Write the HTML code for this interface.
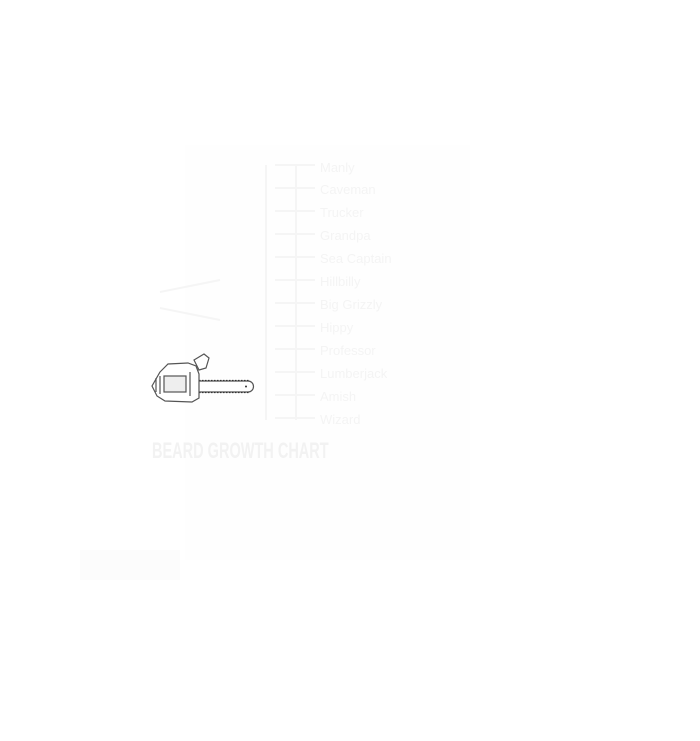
<!DOCTYPE html>
<html><head><style>
body{margin:0;width:700px;height:741px;background:#fff;position:relative;overflow:hidden;font-family:"Liberation Sans",sans-serif}
.t{position:absolute;left:320px;color:#f4f4f4;font-size:13px}
</style></head><body>
<div style="position:absolute;left:185px;top:145px;width:285px;height:415px;background:#fefefe"></div>
<div style="position:absolute;left:80px;top:550px;width:100px;height:30px;background:#fcfcfc"></div>
<div class="t" style="top:160px">Manly</div>
<div class="t" style="top:182px">Caveman</div>
<div class="t" style="top:205px">Trucker</div>
<div class="t" style="top:228px">Grandpa</div>
<div class="t" style="top:251px">Sea Captain</div>
<div class="t" style="top:274px">Hillbilly</div>
<div class="t" style="top:297px">Big Grizzly</div>
<div class="t" style="top:320px">Hippy</div>
<div class="t" style="top:343px">Professor</div>
<div class="t" style="top:366px">Lumberjack</div>
<div class="t" style="top:389px">Amish</div>
<div class="t" style="top:412px">Wizard</div>
<div style="position:absolute;left:152px;top:438px;color:#f2f2f2;font-size:22px;font-weight:bold;transform:scaleX(0.66);transform-origin:0 0;white-space:nowrap">BEARD GROWTH CHART</div>
<svg width="700" height="741" style="position:absolute;left:0;top:0">
<g stroke="#f5f5f5" stroke-width="2" fill="none">
<line x1="296" y1="165" x2="296" y2="420"/>
<line x1="266" y1="165" x2="266" y2="420"/>
<path d="M275 165h40M275 188h40M275 211h40M275 234h40M275 257h40M275 280h40M275 303h40M275 326h40M275 349h40M275 372h40M275 395h40M275 418h40"/>
<path d="M160 292l60 -12M160 308l60 12"/>
</g>
<g stroke="#555" stroke-width="1.2" fill="#fff">
<path d="M198 381 H248 A5.5 5.5 0 0 1 248 392 H198 Z"/>
<path d="M199 380.5 H249 M199 392.5 H249" stroke-dasharray="1.5 1.5" stroke="#333"/>
<path d="M160 372 L168 364 L188 363 L196 366 L199 374 L199 398 L192 402 L165 401 L157 396 L152 386 Z"/>
<path d="M194 360 L204 354 L209 358 L206 368 L199 370 Z"/>
<rect x="164" y="376" width="22" height="16" fill="#eee"/>
<path d="M156 378 v14 M160 376 v18 M190 372 v24"/>
</g>
<circle cx="246" cy="386.5" r="1" fill="#333"/>
</svg>
</body></html>
